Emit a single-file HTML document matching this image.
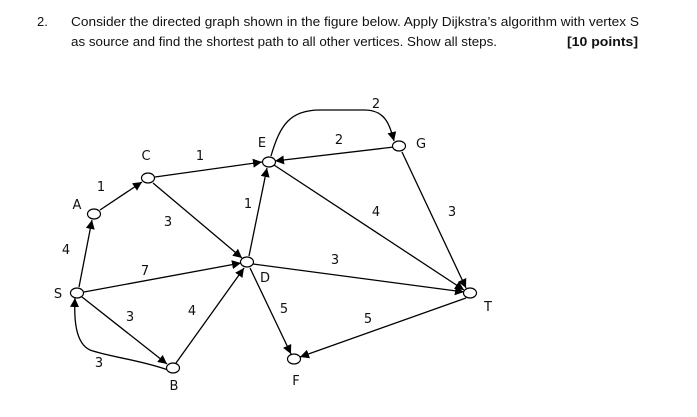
<!DOCTYPE html>
<html><head><meta charset="utf-8"><style>body{margin:0;background:#fff}svg{display:block}</style></head><body>
<svg width="697" height="417" viewBox="0 0 697 417" xmlns="http://www.w3.org/2000/svg" font-family="Liberation Sans, DejaVu Sans, sans-serif">
<defs><marker id="a" viewBox="0 0 10 10" refX="10" refY="5" markerWidth="9" markerHeight="9" markerUnits="userSpaceOnUse" orient="auto"><path d="M0,0 L10,5 L0,10 z" fill="#000"/></marker></defs>
<g font-size="13" fill="#111">
<text x="37" y="26">2.</text>
<text x="71" y="26" textLength="568" lengthAdjust="spacingAndGlyphs">Consider the directed graph shown in the figure below. Apply Dijkstra’s algorithm with vertex S</text>
<text x="71" y="46" textLength="426" lengthAdjust="spacingAndGlyphs">as source and find the shortest path to all other vertices. Show all steps.</text>
<text x="567" y="46" font-weight="bold" textLength="71" lengthAdjust="spacingAndGlyphs">[10 points]</text>
</g>
<g stroke="#000" stroke-width="1.3" fill="none" marker-end="url(#a)">
<line x1="79" y1="287" x2="92" y2="220"/>
<line x1="100" y1="210" x2="142" y2="182"/>
<line x1="155" y1="177" x2="262" y2="162"/>
<line x1="153" y1="183" x2="242" y2="258"/>
<line x1="84" y1="292" x2="241" y2="263"/>
<line x1="82" y1="297" x2="167" y2="364"/>
<path d="M168,370 C140,360 110,357 90,350 C75,343 74,318 75,298"/>
<line x1="176" y1="363" x2="244" y2="268"/>
<line x1="249" y1="256" x2="267" y2="168"/>
<line x1="274" y1="165" x2="464" y2="290"/>
<line x1="253" y1="264" x2="464" y2="292"/>
<line x1="250" y1="268" x2="291" y2="354"/>
<line x1="466" y1="298" x2="300" y2="357"/>
<line x1="394" y1="147" x2="275" y2="161"/>
<path d="M271,156 C280,125 290,110 320,110 L365,110 C385,110 390,125 394,141"/>
<line x1="402" y1="152" x2="466" y2="288"/>
</g>
<g fill="#fff" stroke="#000" stroke-width="1.2">
<ellipse cx="77" cy="293" rx="6.5" ry="5"/><ellipse cx="94" cy="214" rx="6.5" ry="5"/>
<ellipse cx="148" cy="178" rx="6.5" ry="5"/><ellipse cx="269" cy="162" rx="6.5" ry="5"/>
<ellipse cx="247" cy="262" rx="6.5" ry="5"/><ellipse cx="173" cy="368" rx="6.5" ry="5"/>
<ellipse cx="294" cy="359" rx="6.5" ry="5"/><ellipse cx="399" cy="146" rx="6.5" ry="5"/>
<ellipse cx="470" cy="293" rx="6.5" ry="5"/>
</g>
<g font-family="DejaVu Sans, sans-serif" font-size="13" fill="#111" text-anchor="middle">
<text x="376" y="108">2</text><text x="262" y="147">E</text><text x="146" y="160">C</text>
<text x="200" y="160">1</text><text x="339" y="144">2</text><text x="421" y="148">G</text>
<text x="101" y="191">1</text><text x="77" y="209">A</text><text x="248" y="208">1</text>
<text x="376" y="216">4</text><text x="452" y="216">3</text><text x="168" y="226">3</text>
<text x="66" y="254">4</text><text x="145" y="275">7</text><text x="335" y="264">3</text>
<text x="265" y="282">D</text><text x="58" y="298">S</text><text x="488" y="311">T</text>
<text x="130" y="321">3</text><text x="192" y="315">4</text><text x="284" y="313">5</text>
<text x="368" y="323">5</text><text x="99" y="367">3</text><text x="174" y="390">B</text>
<text x="296" y="385">F</text>
</g>
</svg>
</body></html>
